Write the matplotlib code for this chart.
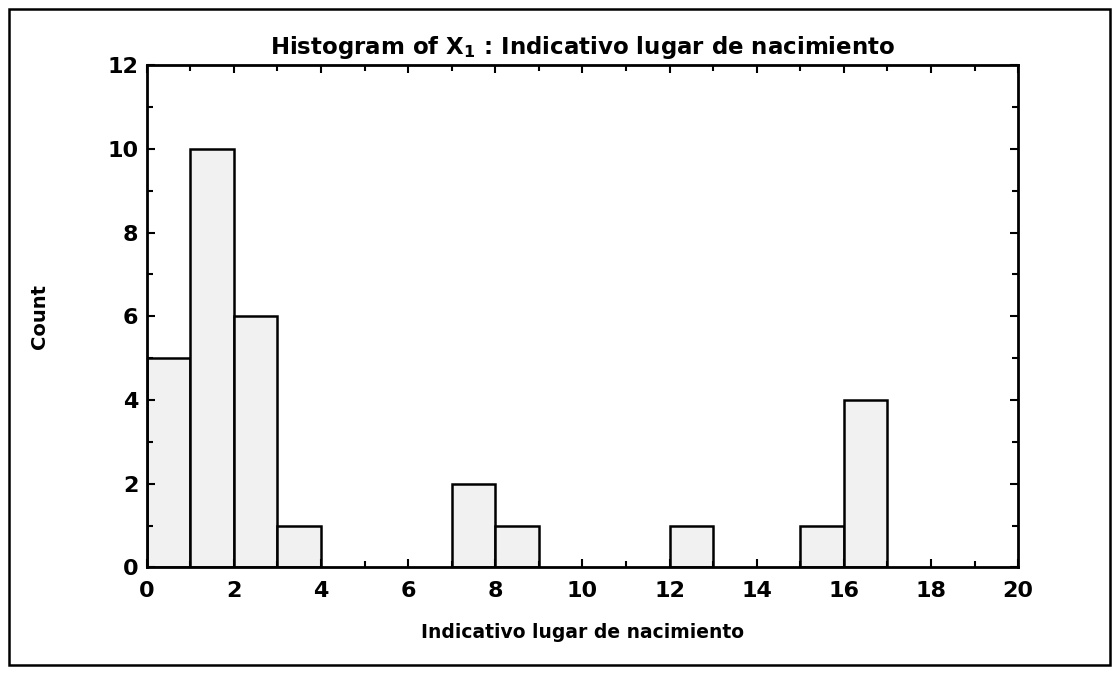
import matplotlib.pyplot as plt
from matplotlib.patches import Rectangle
from matplotlib.ticker import MultipleLocator

bin_left = [0, 1, 2, 3, 7, 8, 12, 15, 16]
counts = [5, 10, 6, 1, 2, 1, 1, 1, 4]

x_ticks = [0, 2, 4, 6, 8, 10, 12, 14, 16, 18, 20]
y_ticks = [0, 2, 4, 6, 8, 10, 12]

titulo = "Histogram of X$_\\mathbf{1}$ : Indicativo lugar de nacimiento"
xlabel = "Indicativo lugar de nacimiento"
ylabel = "Count"

plt.rcParams['font.family'] = ['DejaVu Sans']
plt.rcParams['font.weight'] = 'bold'
plt.rcParams['axes.labelweight'] = 'bold'

fig = plt.figure(figsize=(11.2, 6.73), dpi=100)
ax = fig.add_axes([0.131, 0.157, 0.778, 0.746])

ax.bar(bin_left, counts, width=1, align='edge', facecolor='#f1f1f1',
       edgecolor='black', linewidth=1.8)

ax.set_xlim(0, 20)
ax.set_ylim(0, 12)
ax.set_xticks(x_ticks)
ax.set_yticks(y_ticks)
ax.xaxis.set_minor_locator(MultipleLocator(1))
ax.yaxis.set_minor_locator(MultipleLocator(1))
ax.tick_params(which='both', top=True, right=True, direction='in',
               labelsize=16, width=1.5)
ax.tick_params(which='major', length=6)
ax.tick_params(which='minor', length=4)
ax.tick_params(axis='x', pad=10)
ax.tick_params(axis='y', pad=6)
for sp in ax.spines.values():
    sp.set_linewidth(2)

ax.set_title(titulo, fontsize=16.5, fontweight='bold', pad=8)
ax.set_xlabel(xlabel, fontsize=13.5, labelpad=16)
ax.set_ylabel(ylabel, fontsize=14, labelpad=42)

# marco exterior de la hoja
fig.patches.append(Rectangle((0.008, 0.012), 0.983, 0.975, transform=fig.transFigure,
                             fill=False, edgecolor='black', linewidth=1.8))

fig.savefig("out.png", dpi=100)
